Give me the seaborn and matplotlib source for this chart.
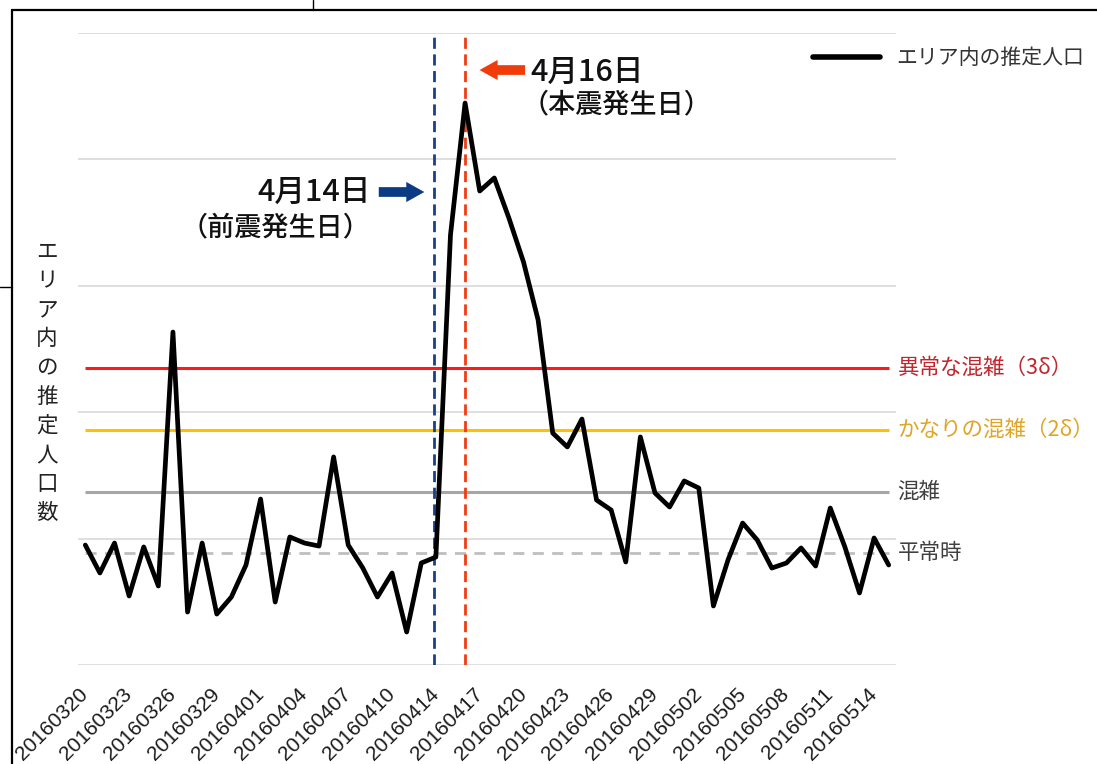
import numpy as np
import pandas as pd
import matplotlib
matplotlib.use('Agg')
import matplotlib.pyplot as plt
import seaborn as sns
from matplotlib.lines import Line2D

# Daily estimated population inside the area (20160413 is missing in the source)
dates = ['20160320', '20160321', '20160322', '20160323', '20160324', '20160325', '20160326',
         '20160327', '20160328', '20160329', '20160330', '20160331', '20160401', '20160402',
         '20160403', '20160404', '20160405', '20160406', '20160407', '20160408', '20160409',
         '20160410', '20160411', '20160412', '20160414', '20160415', '20160416', '20160417',
         '20160418', '20160419', '20160420', '20160421', '20160422', '20160423', '20160424',
         '20160425', '20160426', '20160427', '20160428', '20160429', '20160430', '20160501',
         '20160502', '20160503', '20160504', '20160505', '20160506', '20160507', '20160508',
         '20160509', '20160510', '20160511', '20160512', '20160513', '20160514', '20160515']
population = [949, 728, 965, 546, 934, 625, 2634, 419, 965, 403, 538, 791, 1313, 498,
              1013, 965, 941, 1646, 949, 767, 538, 728, 261, 807, 854, 3402, 4446, 3750,
              3853, 3536, 3188, 2729, 1835, 1725, 1946, 1305, 1226, 815, 1804, 1361, 1250,
              1456, 1400, 467, 831, 1123, 989, 767, 807, 926, 783, 1242, 934, 570, 1005, 791]

# reference levels: normal, +1σ, +2σ, +3σ
levels = [886, 1369, 1859, 2350]
level_labels = ['平常時', '混雑', 'かなりの混雑（2δ）', '異常な混雑（3δ）']
level_colors = ['#bfbfbf', '#a6a6a6', '#ffc000', '#ff1a1a']
level_text_colors = ['#404040', '#404040', '#e0a526', '#c0262d']

foreshock_date = '20160414'
mainshock_date = '20160416'

df = pd.DataFrame({'date': dates, 'pop': population})
pos = {d: i for i, d in enumerate(dates)}

sns.set_style('white')
plt.rcParams['font.family'] = ['Noto Sans CJK JP', 'DejaVu Sans']

fig = plt.figure(figsize=(10.97, 7.64), dpi=100)
ax = fig.add_axes([78 / 1097, 1 - 665 / 764, (896 - 78) / 1097, (665 - 33) / 764])

# grid
for g in range(0, 5001, 1000):
    ax.axhline(g, color='#d9d9d9', lw=1.2, zorder=0)

# threshold lines
n = len(dates)
for lv, c in zip(levels[1:], level_colors[1:]):
    ax.hlines(lv, 0, n - 1, color=c, lw=2.2, zorder=1)
ax.hlines(levels[0], 0, n - 1, color=level_colors[0], lw=2, linestyles=(0, (4, 3)), zorder=1)

for lv, lab, tc in zip(levels, level_labels, level_text_colors):
    ax.text(1.002, lv, lab, transform=ax.get_yaxis_transform(), va='center', ha='left',
            fontsize=15.5, color=tc)

# event lines
ax.axvline(pos[foreshock_date] - 0.15, color='#1a3f8a', lw=2, ls=(0, (4, 2)), zorder=2)
ax.axvline(pos[mainshock_date], color='#f03c14', lw=2, ls=(0, (4, 2)), zorder=2)

sns.lineplot(data=df, x='date', y='pop', color='black', lw=3.4, sort=False, ax=ax, zorder=3)

ax.set_xlim(-0.5, n - 0.5)
ax.set_ylim(0, 5000)
ax.set_yticks([])
ticks = list(range(0, n, 3))
ax.set_xticks(ticks)
ax.set_xticklabels([dates[i] for i in ticks], rotation=45, ha='right', va='center',
                   rotation_mode='anchor', fontsize=15, family=['Liberation Sans'],
                   color='#1a1a1a')
ax.tick_params(axis='x', length=0, pad=19)
ax.set_xlabel('')
ax.set_ylabel('')
for s in ax.spines.values():
    s.set_visible(False)

# annotations
arrow = 'simple,head_length=1.3,head_width=1.45,tail_width=0.7'
fx = pos[foreshock_date]
mx = pos[mainshock_date]
ax.annotate('', xy=(fx - 0.6, 3742), xytext=(fx - 4.1, 3742),
            arrowprops=dict(arrowstyle=arrow, color='#0d3a85', lw=0, mutation_scale=10))
ax.text(fx - 4.5, 3742, '4月14日', ha='right', va='center', fontsize=22,
        weight='medium', color='#111111')
ax.text(fx - 4.45, 3457, '（前震発生日）', ha='right', va='center', fontsize=19.5,
        weight='medium', color='#111111')
ax.annotate('', xy=(mx + 0.8, 4707), xytext=(mx + 4.3, 4707),
            arrowprops=dict(arrowstyle=arrow, color='#f03c0a', lw=0, mutation_scale=10))
ax.text(mx + 4.5, 4691, '4月16日', ha='left', va='center', fontsize=22,
        weight='medium', color='#111111')
ax.text(mx + 3.9, 4430, '（本震発生日）', ha='left', va='center', fontsize=19.5,
        weight='medium', color='#111111')

# legend
leg_handle = Line2D([], [], color='black', lw=4)
fig.legend([leg_handle], ['エリア内の推定人口'], loc='center left',
           bbox_to_anchor=(813 / 1097, 1 - 58 / 764), frameon=False, fontsize=15,
           handlelength=3.2, handletextpad=0.8, borderpad=0, borderaxespad=0,
           labelcolor='#333333')

# vertical y label, one character per row
ylabel_chars = list('エリア内の推定人口数')
for i, ch in enumerate(ylabel_chars):
    fig.text(47 / 1097, 1 - (252 + i * 29) / 764, ch, ha='center', va='center',
             fontsize=15.5, color='#222222')

# outer frame of the pasted image
fig.add_artist(Line2D([12 / 1097, 12 / 1097], [0, 1 - 10 / 764], color='black', lw=1.6))
fig.add_artist(Line2D([12 / 1097, 1], [1 - 10 / 764, 1 - 10 / 764], color='black', lw=1.6))
fig.add_artist(Line2D([313 / 1097, 313 / 1097], [1 - 10 / 764, 1], color='black', lw=1))
fig.add_artist(Line2D([0, 12 / 1097], [1 - 287 / 764, 1 - 287 / 764], color='black', lw=1))

plt.savefig('out.png', dpi=100)
